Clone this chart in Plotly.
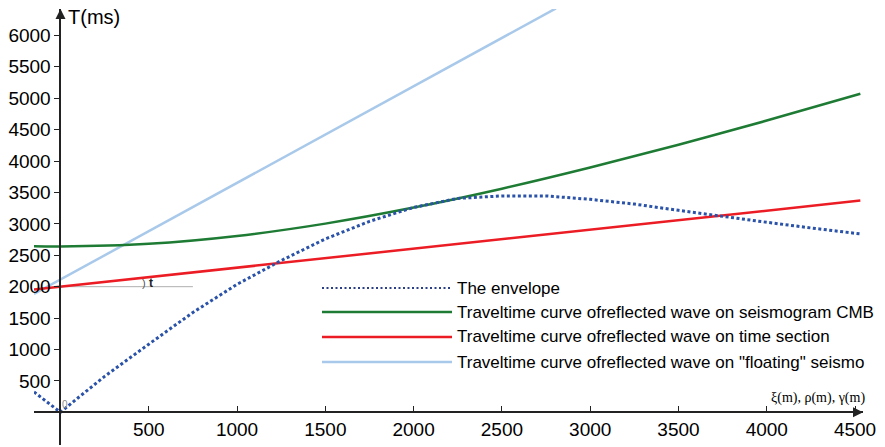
import plotly.graph_objects as go

# ---- data ----
env_x = [-150, -75, 0, 100, 250, 500, 750, 1000, 1250, 1500, 1750, 2000, 2250, 2500, 2750, 3000, 3250, 3500, 3750, 4000, 4250, 4530]
env_T = [325, 160, 0, 232, 572, 1085, 1590, 2038, 2416, 2760, 3040, 3262, 3405, 3445, 3445, 3390, 3315, 3215, 3115, 3025, 2935, 2840]

cmb_x = [-150, 0, 500, 1000, 1500, 2000, 2500, 3000, 3500, 4000, 4530]
cmb_T = [2645, 2640, 2682, 2807, 3004, 3259, 3560, 3897, 4260, 4644, 5070]

sec_x = [-150, 0, 1000, 2000, 3000, 4000, 4530]
sec_T = [1955, 2000, 2300, 2600, 2905, 3210, 3370]

flt_x = [-150, 0, 1000, 2000, 2806]
flt_T = [1884, 2115, 3655, 5195, 6430]

ref_x = [0, 750]
ref_T = [2000, 2000]

x_ticks = [500, 1000, 1500, 2000, 2500, 3000, 3500, 4000, 4500]
y_ticks = [500, 1000, 1500, 2000, 2500, 3000, 3500, 4000, 4500, 5000, 5500, 6000]

names = ["The envelope",
         "Traveltime curve ofreflected wave on seismogram CMB",
         "Traveltime curve ofreflected wave on time section",
         "Traveltime curve ofreflected wave on \"floating\" seismo"]

C_ENV = "#2a52a8"
C_CMB = "#1e7b34"
C_SEC = "#ec1c24"
C_FLT = "#a9c9ea"

X_RANGE = [-150, 4545]
Y_RANGE = [-520, 6420]

W, H = 885, 447
ML, MR, MT, MB = 34, 22, 9, 2
PW, PH = W - ML - MR, H - MT - MB

def px(x):  # pixel -> paper x
    return (x - ML) / PW

def py(y):  # pixel -> paper y
    return (H - MB - y) / PH

fig = go.Figure()
fig.add_trace(go.Scatter(x=ref_x, y=ref_T, mode="lines",
                         line=dict(color="#b0b0b0", width=1), showlegend=False, hoverinfo="skip"))
fig.add_trace(go.Scatter(x=flt_x, y=flt_T, mode="lines", name=names[3],
                         line=dict(color=C_FLT, width=2.5), showlegend=False))
fig.add_trace(go.Scatter(x=sec_x, y=sec_T, mode="lines", name=names[2],
                         line=dict(color=C_SEC, width=2.5), showlegend=False))
fig.add_trace(go.Scatter(x=cmb_x, y=cmb_T, mode="lines", name=names[1], line_shape="spline",
                         line=dict(color=C_CMB, width=2.5), showlegend=False))
fig.add_trace(go.Scatter(x=env_x, y=env_T, mode="lines", name=names[0],
                         line=dict(color=C_ENV, width=3, dash="3px,2.5px"), showlegend=False))

x_pos = (0 - X_RANGE[0]) / (X_RANGE[1] - X_RANGE[0])
y_pos = (0 - Y_RANGE[0]) / (Y_RANGE[1] - Y_RANGE[0])

font = "Liberation Sans, Arial, sans-serif"

fig.update_layout(
    width=W, height=H,
    margin=dict(l=ML, r=MR, t=MT, b=MB, autoexpand=False),
    plot_bgcolor="white", paper_bgcolor="white",
    font=dict(family=font, color="black"),
    xaxis=dict(range=X_RANGE, anchor="free", position=y_pos, showgrid=False, zeroline=False,
               showline=True, linecolor="#222", linewidth=2, automargin=False,
               tickvals=x_ticks, ticktext=[str(v) for v in x_ticks],
               ticks="inside", ticklen=5, tickcolor="#222", tickwidth=1,
               tickfont=dict(size=19, family=font)),
    yaxis=dict(range=Y_RANGE, anchor="free", position=x_pos, showgrid=False, zeroline=False,
               showline=True, linecolor="#222", linewidth=2, automargin=False,
               tickvals=y_ticks, ticktext=[str(v) for v in y_ticks],
               ticks="outside", ticklen=5, tickcolor="#222", tickwidth=1,
               tickfont=dict(size=19, family=font)),
    showlegend=False,
)

ann = []
# axis arrows
ann.append(dict(x=0, y=Y_RANGE[1], xref="x", yref="y", ax=0, ay=8, text="", showarrow=True,
                arrowhead=2, arrowsize=1, arrowwidth=2, arrowcolor="#222"))
ann.append(dict(x=X_RANGE[1], y=0, xref="x", yref="y", ax=-8, ay=0, text="", showarrow=True,
                arrowhead=2, arrowsize=1, arrowwidth=2, arrowcolor="#222"))
# axis titles
ann.append(dict(x=px(66), y=py(17), xref="paper", yref="paper", text="T(ms)", showarrow=False,
                xanchor="left", yanchor="middle", font=dict(size=20, family=font)))
ann.append(dict(x=px(867), y=py(398), xref="paper", yref="paper", text="ξ(m), ρ(m), γ(m)",
                showarrow=False, xanchor="right", yanchor="middle",
                font=dict(size=14, family="Liberation Serif, Times New Roman, serif")))
# small labels
ann.append(dict(x=px(65), y=py(404), xref="paper", yref="paper", text="0", showarrow=False,
                xanchor="center", yanchor="middle", font=dict(size=10, color="#888")))
ann.append(dict(x=px(144), y=py(283), xref="paper", yref="paper", text=")", showarrow=False,
                xanchor="center", yanchor="middle", font=dict(size=11, color="#555")))
ann.append(dict(x=px(151), y=py(283), xref="paper", yref="paper", text="<b>t</b>", showarrow=False,
                xanchor="center", yanchor="middle", font=dict(size=12, color="#222")))

# manual legend
rows_y = [288, 312, 337, 362]
colors = [C_ENV, C_CMB, C_SEC, C_FLT]
shapes = []
for i, (yy, c, n) in enumerate(zip(rows_y, colors, names)):
    shapes.append(dict(type="line", xref="paper", yref="paper",
                       x0=px(322), x1=px(452), y0=py(yy), y1=py(yy),
                       line=dict(color=("#2b3f86" if i == 0 else c), width=(2 if i == 0 else 2.5),
                                 dash=("2px,2.5px" if i == 0 else "solid"))))
    ann.append(dict(x=px(455), y=py(yy), xref="paper", yref="paper", text=n, showarrow=False,
                    xanchor="left", yanchor="middle", font=dict(size=17, family=font)))

fig.update_layout(annotations=ann, shapes=shapes)
fig.write_html("out.html", config={"displayModeBar": False},
               post_script="document.body.style.margin='0';document.body.style.padding='0';")
